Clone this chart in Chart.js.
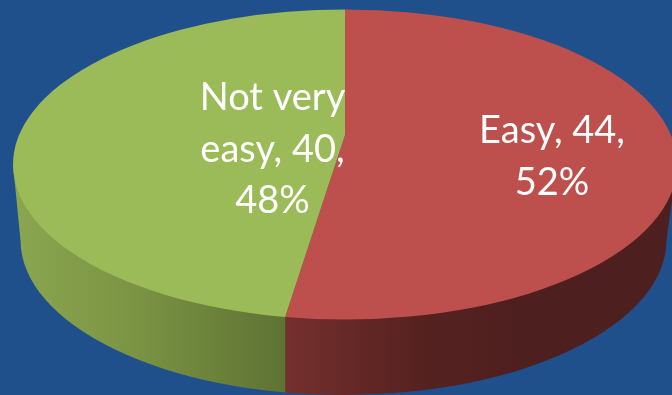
<!DOCTYPE html>
<html>
<head>
<meta charset="utf-8">
<title>Ease of use</title>
<script src="https://cdn.jsdelivr.net/npm/chart.js@4/dist/chart.umd.min.js"></script>
<style>
    html, body { margin: 0; padding: 0; background: #20508b; overflow: hidden; }
    #box { position: relative; width: 672px; height: 395px; }
</style>
</head>
<body>
<div id="box"><canvas id="pie"></canvas></div>
<script>
// --- Data ---
const categories = ['Easy', 'Not very easy'];
const answers = [44, 40];
const faceColors = ['#bd4f4c', '#9bbb59'];

// Wall shading, left to right
const wallShades = [
    [[0, '#752f2d'], [0.35, '#552220'], [0.6, '#4e1f1f'], [1, '#4e1f1f']],
    [[0, '#8ba650'], [0.4, '#7c9645'], [1, '#5f7333']]
];

// --- Disc geometry ---
const STRETCH = 332 / 155;     // ellipse width against its height
const TILT = 0.19;             // how far the hub sits behind the ellipse centre
const WALL_DEPTH = 75.5;
const WALL_SHIFT = -1.5;
const WALL_WIDTH = 323 / 155;

const toEllipse = (angle) => {
    const t = angle + Math.PI / 2;
    const u = Math.sin(t);
    const v = -Math.cos(t);
    const d = 1 - TILT * v;
    return [u * Math.sqrt(1 - TILT * TILT) / d, (v - TILT) / d];
};

class Pie3DArc extends Chart.ArcElement {
    static id = 'pie3dArc';

    draw(ctx) {
        const {x, y, outerRadius: r, startAngle, endAngle} = this;
        const index = this.$context.index;
        const rx = r * STRETCH;
        const [sx, sy] = toEllipse(startAngle);
        const [ex, ey] = toEllipse(endAngle);
        const isFirst = index === 0;
        const seam = x + (isFirst ? ex : sx) * rx;

        this.drawWall(ctx, index, isFirst ? seam : x - rx, isFirst ? x + rx : seam);

        ctx.save();
        ctx.beginPath();
        ctx.moveTo(x, y - TILT * r);
        ctx.ellipse(x, y, rx, r, 0, Math.atan2(sy, sx), Math.atan2(ey, ex));
        ctx.closePath();
        ctx.fillStyle = this.options.backgroundColor;
        ctx.fill();
        ctx.restore();
    }

    drawWall(ctx, index, left, right) {
        const {x, y, outerRadius: r} = this;
        const rx = r * STRETCH;
        const gradient = ctx.createLinearGradient(left, 0, Math.min(right, 672), 0);
        wallShades[index].forEach(([stop, color]) => gradient.addColorStop(stop, color));

        ctx.save();
        ctx.beginPath();
        ctx.rect(left, 0, right - left, 395);
        ctx.clip();
        ctx.beginPath();
        ctx.moveTo(x - rx, y);
        ctx.ellipse(x + WALL_SHIFT, y + WALL_DEPTH, r * WALL_WIDTH, r, 0, Math.PI, 0, true);
        ctx.lineTo(x + rx, y);
        ctx.closePath();
        ctx.fillStyle = gradient;
        ctx.fill();
        ctx.restore();
    }
}

class Pie3DController extends Chart.PieController {
    static id = 'pie3d';
    static defaults = {dataElementType: 'pie3dArc'};
}

Chart.register(Pie3DArc, Pie3DController);

// --- Data labels ---
const labelPlugin = {
    id: 'sliceLabels',
    afterDatasetsDraw(chart) {
        const ctx = chart.ctx;
        const total = answers.reduce((a, b) => a + b, 0);
        const anchors = [[552, 143], [272.5, 110]];
        ctx.save();
        ctx.font = '38px Lato';
        ctx.fillStyle = '#ffffff';
        ctx.textAlign = 'center';
        categories.forEach((name, i) => {
            const pct = Math.round(answers[i] / total * 100);
            const words = `${name}, ${answers[i]}, ${pct}%`.split(' ');
            const lines = [];
            let line = '';
            words.forEach(word => {
                const next = line ? line + ' ' + word : word;
                if (ctx.measureText(next).width > 170) {
                    lines.push(line);
                    line = word;
                } else {
                    line = next;
                }
            });
            lines.push(line);
            lines.forEach((text, n) => ctx.fillText(text, anchors[i][0], anchors[i][1] + n * 51.5));
        });
        ctx.restore();
    }
};

function init() {
    new Chart(document.getElementById('pie'), {
        type: 'pie3d',
        data: {
            labels: categories,
            datasets: [{
                data: answers,
                backgroundColor: faceColors,
                borderWidth: 0
            }]
        },
        options: {
            responsive: true,
            maintainAspectRatio: false,
            animation: false,
            layout: {padding: {top: 9.5, bottom: 75.5, left: 18, right: 0}},
            plugins: {legend: {display: false}, tooltip: {enabled: false}}
        },
        plugins: [labelPlugin]
    });
}

document.fonts.load('38px Lato').finally(init);
</script>
</body>
</html>
